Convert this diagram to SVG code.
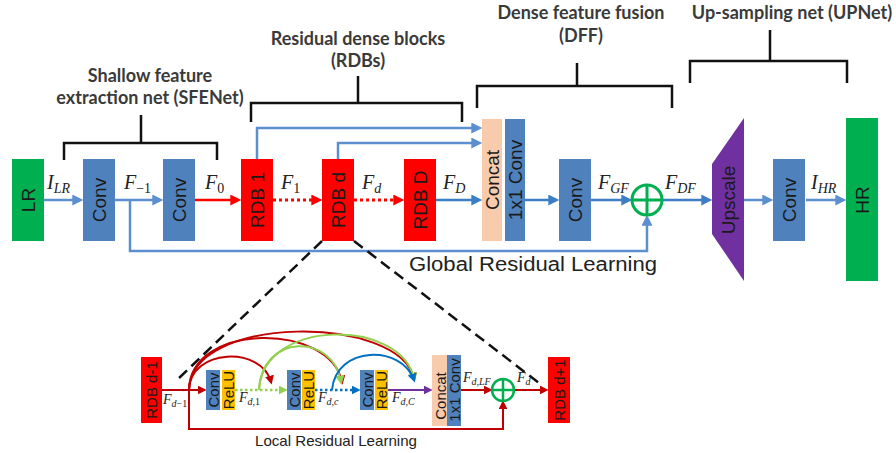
<svg xmlns="http://www.w3.org/2000/svg" width="896" height="453" viewBox="0 0 896 453">
<style>
.box{stroke:none}
.bt{font-family:"Liberation Sans",Arial,sans-serif;font-size:19px;fill:#1a1a1a;text-anchor:middle}
.st{font-family:"Liberation Sans",Arial,sans-serif;font-size:15px;fill:#1a1a1a;text-anchor:middle}
.hd{font-family:Lato,"Open Sans",sans-serif;font-weight:700;font-size:18px;fill:#3a3a3a;text-anchor:middle}
.m{font-family:"Liberation Serif","Times New Roman",serif;font-style:italic;font-size:20px;fill:#222}
.ms{font-family:"Liberation Serif","Times New Roman",serif;font-style:italic;font-size:14px;fill:#222}
.up{font-style:normal}
.br{fill:none;stroke:#111;stroke-width:2.5}
.cap{font-family:"Liberation Sans",Arial,sans-serif;fill:#222;text-anchor:middle}
</style>
<defs>
<marker id="aB" viewBox="0 0 10 10" refX="7" refY="5" markerWidth="12" markerHeight="11" markerUnits="userSpaceOnUse" orient="auto"><path d="M0,0L10,5L0,10z" fill="#3C7DC4"/></marker>
<marker id="aL" viewBox="0 0 10 10" refX="7" refY="5" markerWidth="12" markerHeight="11" markerUnits="userSpaceOnUse" orient="auto"><path d="M0,0L10,5L0,10z" fill="#5B8FCF"/></marker>
<marker id="aR" viewBox="0 0 10 10" refX="7" refY="5" markerWidth="12" markerHeight="11" markerUnits="userSpaceOnUse" orient="auto"><path d="M0,0L10,5L0,10z" fill="#FF0000"/></marker>
<marker id="sR" viewBox="0 0 10 10" refX="7" refY="5" markerWidth="9" markerHeight="9" markerUnits="userSpaceOnUse" orient="auto"><path d="M0,0L10,5L0,10z" fill="#C00000"/></marker>
<marker id="sG" viewBox="0 0 10 10" refX="7" refY="5" markerWidth="9" markerHeight="9" markerUnits="userSpaceOnUse" orient="auto"><path d="M0,0L10,5L0,10z" fill="#92D050"/></marker>
<marker id="sB" viewBox="0 0 10 10" refX="7" refY="5" markerWidth="9" markerHeight="9" markerUnits="userSpaceOnUse" orient="auto"><path d="M0,0L10,5L0,10z" fill="#0070C0"/></marker>
<marker id="sP" viewBox="0 0 10 10" refX="7" refY="5" markerWidth="9" markerHeight="9" markerUnits="userSpaceOnUse" orient="auto"><path d="M0,0L10,5L0,10z" fill="#7030A0"/></marker>
</defs>

<rect width="896" height="453" fill="#fff"/>

<!-- brackets and headings -->
<g id="brackets">
<path class="br" d="M64 160V143H217V160M141 143V115"/>
<path class="br" d="M251 122V103H462V122M358 103V76"/>
<path class="br" d="M477 108V86H672V108M577 86V63"/>
<path class="br" d="M690 83V61H847V83M770 61V30"/>
<text class="hd" x="150" y="82">Shallow feature</text>
<text class="hd" x="150" y="104">extraction net (SFENet)</text>
<text class="hd" x="358" y="45">Residual dense blocks</text>
<text class="hd" x="358" y="67">(RDBs)</text>
<text class="hd" x="581" y="19">Dense feature fusion</text>
<text class="hd" x="581" y="42">(DFF)</text>
<text class="hd" x="792" y="19">Up-sampling net (UPNet)</text>
</g>

<!-- connectors -->
<g id="connectors" fill="none">
<g stroke="#3C7DC4" stroke-width="2.5">
<path d="M44 200H80" marker-end="url(#aL)" stroke="#5B8FCF"/>
<path d="M115 200H160" marker-end="url(#aL)" stroke="#5B8FCF"/>
<path d="M436 200H479" marker-end="url(#aB)"/>
<path d="M525 200H556" marker-end="url(#aB)"/>
<path d="M591 200H629" marker-end="url(#aB)"/>
<path d="M662 200H709" marker-end="url(#aB)"/>
<path d="M744 200H770" marker-end="url(#aL)" stroke="#5B8FCF"/>
<path d="M806 200H843" marker-end="url(#aL)" stroke="#5B8FCF"/>
<path d="M257 159V128H479" marker-end="url(#aL)" stroke="#5B8FCF"/>
<path d="M338 159V143H479" marker-end="url(#aL)" stroke="#5B8FCF"/>
<path d="M130 200V251H647V218" marker-end="url(#aL)" stroke="#5B8FCF"/>
</g>
<path d="M195 200H238" stroke="#FF0000" stroke-width="2.5" marker-end="url(#aR)"/>
<path d="M273 200H319" stroke="#FF0000" stroke-width="3" stroke-dasharray="3 3" marker-end="url(#aR)"/>
<path d="M354 200H401" stroke="#FF0000" stroke-width="3" stroke-dasharray="3 3" marker-end="url(#aR)"/>
<!-- zoom dashes -->
<path d="M322 241L177 380M354 241L539 383" stroke="#111" stroke-width="2.5" stroke-dasharray="11 6"/>
<!-- bottom -->
<g stroke-width="2">
<path d="M162 390H204" stroke="#C00000" marker-end="url(#sR)"/>
<path d="M235 390H285" stroke="#92D050" stroke-width="2.5" stroke-dasharray="2.5 2.5" marker-end="url(#sG)"/>
<path d="M315 390H358" stroke="#0070C0" stroke-width="2.5" stroke-dasharray="2.5 2.5" marker-end="url(#sB)"/>
<path d="M388 390H430" stroke="#7030A0" marker-end="url(#sP)"/>
<path d="M461 390H490" stroke="#C00000" marker-end="url(#sR)"/>
<path d="M514 390H546" stroke="#C00000" marker-end="url(#sR)"/>
<path d="M189 390V429H503V403" stroke="#C00000" marker-end="url(#sR)"/>
<path d="M189 390C190 348 262 346 271 382" stroke="#C00000" marker-end="url(#sR)"/>
<path d="M189 390C190 322 330 322 342 382" stroke="#C00000" marker-end="url(#sR)"/>
<path d="M189 390C190 314 400 314 414 379" stroke="#C00000" marker-end="url(#sR)"/>
<path d="M259 390C262 333 333 333 341 382" stroke="#92D050" marker-end="url(#sG)"/>
<path d="M259 390C262 318 402 318 414 379" stroke="#92D050" marker-end="url(#sG)"/>
<path d="M332 390C336 345 402 345 414 380" stroke="#0070C0" marker-end="url(#sB)"/>
</g>
</g>

<!-- top nodes -->
<g id="LR"><rect class="box" x="12" y="159" width="32" height="82" fill="#00B050"/><text class="bt" transform="translate(28,200) rotate(-90)" dy="7">LR</text></g>
<g id="conv1"><rect class="box" x="83" y="159" width="32" height="82" fill="#4F81BD"/><text class="bt" transform="translate(99,200) rotate(-90)" dy="7">Conv</text></g>
<g id="conv2"><rect class="box" x="163" y="159" width="32" height="82" fill="#4F81BD"/><text class="bt" transform="translate(179,200) rotate(-90)" dy="7">Conv</text></g>
<g id="rdb1"><rect class="box" x="241" y="159" width="32" height="82" fill="#FF0000"/><text class="bt" transform="translate(257,200) rotate(-90)" dy="7">RDB 1</text></g>
<g id="rdbd"><rect class="box" x="322" y="159" width="32" height="82" fill="#FF0000"/><text class="bt" transform="translate(338,200) rotate(-90)" dy="7">RDB d</text></g>
<g id="rdbD"><rect class="box" x="404" y="159" width="32" height="82" fill="#FF0000"/><text class="bt" transform="translate(420,200) rotate(-90)" dy="7">RDB D</text></g>
<g id="concat"><rect class="box" x="482" y="119" width="20" height="122" fill="#F8CBAD"/><text class="bt" transform="translate(492,180) rotate(-90)" dy="7">Concat</text></g>
<g id="conv1x1"><rect class="box" x="505" y="119" width="20" height="122" fill="#4F81BD"/><text class="bt" transform="translate(515,180) rotate(-90)" dy="7">1x1 Conv</text></g>
<g id="conv3"><rect class="box" x="559" y="159" width="32" height="82" fill="#4F81BD"/><text class="bt" transform="translate(575,200) rotate(-90)" dy="7">Conv</text></g>
<g id="sum"><circle cx="647" cy="200" r="15" fill="#fff" stroke="#00B050" stroke-width="3"/><path d="M632 200H662M647 185V215" stroke="#00B050" stroke-width="3"/></g>
<g id="upscale"><polygon points="712,164 744,118 744,281 712,234" fill="#7030A0"/><text class="bt" transform="translate(728,200) rotate(-90)" dy="7">Upscale</text></g>
<g id="conv4"><rect class="box" x="773" y="159" width="32" height="82" fill="#4F81BD"/><text class="bt" transform="translate(789,200) rotate(-90)" dy="7">Conv</text></g>
<g id="HR"><rect class="box" x="846" y="118" width="32" height="163" fill="#00B050"/><text class="bt" transform="translate(862,200) rotate(-90)" dy="7">HR</text></g>

<!-- top labels -->
<g id="labels">
<text class="m" x="47" y="189">I<tspan font-size="14" dy="4">LR</tspan></text>
<text class="m" x="124" y="189">F<tspan font-size="14" dy="4" class="up">−1</tspan></text>
<text class="m" x="205" y="189">F<tspan font-size="14" dy="4" class="up">0</tspan></text>
<text class="m" x="281" y="189">F<tspan font-size="14" dy="4" class="up">1</tspan></text>
<text class="m" x="362" y="189">F<tspan font-size="14" dy="4">d</tspan></text>
<text class="m" x="443" y="189">F<tspan font-size="14" dy="4">D</tspan></text>
<text class="m" x="598" y="189">F<tspan font-size="14" dy="4">GF</tspan></text>
<text class="m" x="665" y="189">F<tspan font-size="14" dy="4">DF</tspan></text>
<text class="m" x="811" y="189">I<tspan font-size="14" dy="4">HR</tspan></text>
<text class="cap" x="533" y="271" font-size="20" textLength="248" lengthAdjust="spacingAndGlyphs">Global Residual Learning</text>
</g>

<!-- bottom nodes -->
<g id="rdb_dm1"><rect class="box" x="141" y="357" width="21" height="66" fill="#FF0000"/><text class="st" transform="translate(151.5,390) rotate(-90)" dy="5.5">RDB d-1</text></g>
<g id="conv_a"><rect class="box" x="206" y="370" width="14" height="40" fill="#4F81BD"/><text class="st" transform="translate(213,390) rotate(-90)" dy="5.5">Conv</text></g>
<g id="relu_a"><rect class="box" x="222" y="370" width="13" height="40" fill="#FFC000"/><text class="st" transform="translate(228.5,390) rotate(-90)" dy="5.5">ReLU</text></g>
<g id="conv_b"><rect class="box" x="287" y="370" width="14" height="40" fill="#4F81BD"/><text class="st" transform="translate(294,390) rotate(-90)" dy="5.5">Conv</text></g>
<g id="relu_b"><rect class="box" x="302" y="370" width="13" height="40" fill="#FFC000"/><text class="st" transform="translate(308.5,390) rotate(-90)" dy="5.5">ReLU</text></g>
<g id="conv_c"><rect class="box" x="360" y="370" width="14" height="40" fill="#4F81BD"/><text class="st" transform="translate(367,390) rotate(-90)" dy="5.5">Conv</text></g>
<g id="relu_c"><rect class="box" x="375" y="370" width="13" height="40" fill="#FFC000"/><text class="st" transform="translate(381.5,390) rotate(-90)" dy="5.5">ReLU</text></g>
<g id="concat_s"><rect class="box" x="432" y="355" width="15" height="71" fill="#F8CBAD"/><text class="st" font-size="17" transform="translate(439.5,396) rotate(-90)" dy="6">Concat</text></g>
<g id="conv1x1_s"><rect class="box" x="447" y="355" width="14" height="71" fill="#4F81BD"/><text class="st" transform="translate(454,390) rotate(-90)" dy="5.5">1x1 Conv</text></g>
<g id="sum_s"><circle cx="503" cy="390" r="11" fill="#fff" stroke="#00B050" stroke-width="2.5"/><path d="M492 390H514M503 379V401" stroke="#00B050" stroke-width="2.5"/></g>
<g id="rdb_dp1"><rect class="box" x="548" y="357" width="22" height="66" fill="#FF0000"/><text class="st" transform="translate(559,390) rotate(-90)" dy="5.5">RDB d+1</text></g>

<g id="labels_s">
<text class="ms" x="163" y="404">F<tspan font-size="10" dy="3">d</tspan><tspan font-size="10" class="up">−1</tspan></text>
<text class="ms" x="239" y="402">F<tspan font-size="10" dy="3">d</tspan><tspan font-size="10" class="up">,1</tspan></text>
<text class="ms" x="318" y="402">F<tspan font-size="10" dy="3">d,c</tspan></text>
<text class="ms" x="392" y="402">F<tspan font-size="10" dy="3">d,C</tspan></text>
<text class="ms" x="463" y="382">F<tspan font-size="10" dy="3">d,LF</tspan></text>
<text class="ms" x="517" y="382">F<tspan font-size="10" dy="3">d</tspan></text>
<text class="cap" x="336" y="446" font-size="15" textLength="162" lengthAdjust="spacingAndGlyphs">Local Residual Learning</text>
</g>
</svg>
